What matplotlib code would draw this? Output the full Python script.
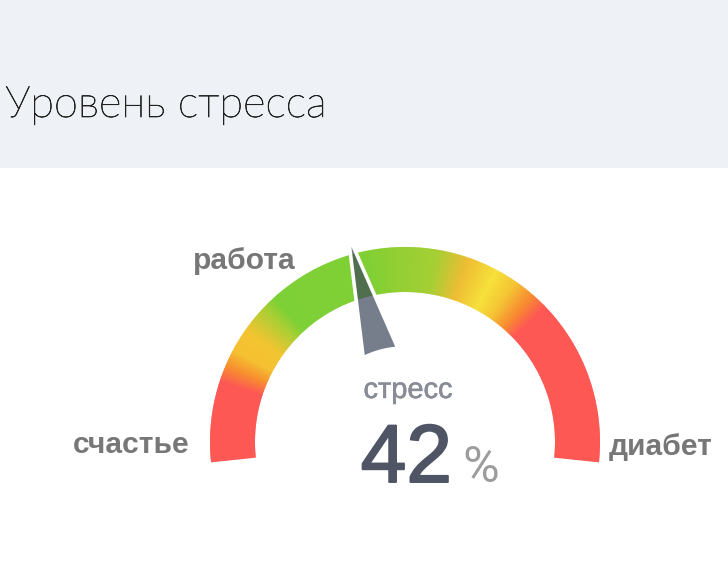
import numpy as np
import matplotlib
matplotlib.use("Agg")
import matplotlib.pyplot as plt
from matplotlib.patches import Wedge, Polygon, Rectangle
from matplotlib.colors import LinearSegmentedColormap
import matplotlib.patheffects as pe

# ---- data ----
title = "Уровень стресса"
value = 42                      # percent
value_label = "стресс"
end_labels = ["счастье", "работа", "диабет"]

# gradient stops along the gauge (percent of the scale) and their colours
stop_pos = [0, 12.5, 15.2, 17.8, 21.4, 26, 28, 44, 48, 55, 59.9, 64.7, 68, 71.4, 74, 100]
stop_colors = ["#fd5854", "#fd5854", "#f7902e", "#f5c131", "#f3c431", "#a6cf34",
               "#7dd036", "#80d035", "#90cf33", "#a5cf34", "#eebd34", "#f6e13a",
               "#f5c534", "#f88a30", "#fd5854", "#fd5854"]

# ---- layout (pixels) ----
W, H, DPI = 728, 570, 100
cx, cy = 405, 442               # gauge centre in pixel coords (from top-left)
R_out, R_in = 195, 150
ang_start, ang_end = 186.0, -6.0

fig = plt.figure(figsize=(W / DPI, H / DPI), dpi=DPI)
fig.patch.set_facecolor("white")
ax = fig.add_axes([0, 0, 1, 1])
ax.set_xlim(-cx, W - cx)
ax.set_ylim(cy - H, cy)
ax.set_aspect("equal")
ax.axis("off")

# header band
ax.add_patch(Rectangle((0, 1 - 168 / H), 1, 168 / H, transform=ax.transAxes,
                       facecolor="#eef1f5", edgecolor="none", zorder=0))
fig.text(5 / W, 1 - 117 / H, title, fontsize=43.5 * 0.72, family="Lato",
         fontweight="light", color="#222222", va="baseline", ha="left",
         path_effects=[pe.withStroke(linewidth=0.5, foreground="#222222")])

# gradient arc
cmap = LinearSegmentedColormap.from_list(
    "g", list(zip(np.array(stop_pos) / 100.0, stop_colors)), N=1024)
N = 384
fr = np.linspace(0, 1, N + 1)
step = (ang_start - ang_end) / N
for i in range(N):
    t_hi = ang_start - step * i
    t_lo = ang_start - step * (i + 1)
    if i < N - 1:
        t_lo -= step * 0.6
    c = cmap((fr[i] + fr[i + 1]) / 2)
    ax.add_patch(Wedge((0, 0), R_out, t_lo, t_hi,
                       width=R_out - R_in, facecolor=c, edgecolor="none",
                       linewidth=0, zorder=2))

# needle
theta = np.deg2rad(ang_start + (ang_end - ang_start) * value / 100.0)
half = np.deg2rad(11)
r_base, r_tip = 94, 215
base_ang = np.linspace(theta - half, theta + half, 20)
pts = [(r_base * np.cos(a), r_base * np.sin(a)) for a in base_ang]
pts.append((r_tip * np.cos(theta), r_tip * np.sin(theta)))
ax.add_patch(Polygon(pts, closed=True, facecolor=(60 / 255, 70 / 255, 90 / 255, 0.7),
                     edgecolor="white", linewidth=2.6, joinstyle="miter", zorder=3))

# labels
lab_kw = dict(fontsize=30 * 0.72, family="Liberation Sans", fontweight="bold",
              color="#777777", va="baseline")
ax.text(73 - cx, cy - 453, end_labels[0], ha="left", **lab_kw)
ax.text(193 - cx, cy - 269, end_labels[1], ha="left", **lab_kw)
ax.text(713 - cx, cy - 455, end_labels[2], ha="right", **lab_kw)

ax.text(408 - cx, cy - 398, value_label, ha="center", va="baseline",
        fontsize=29 * 0.72, family="Liberation Sans", color="#878c96",
        path_effects=[pe.withStroke(linewidth=0.4, foreground="#878c96")])
ax.text(452 - cx, cy - 482, f"{value}", ha="right", va="baseline",
        fontsize=82 * 0.72, family="Liberation Sans", color="#4f5565",
        path_effects=[pe.withStroke(linewidth=1.4, foreground="#4f5565")])
ax.text(462 - cx, cy - 482, "%", ha="left", va="baseline",
        fontsize=50 * 0.72, family="Roboto", color="#9c9c9c")

fig.savefig("out.png", dpi=DPI, facecolor="white")
